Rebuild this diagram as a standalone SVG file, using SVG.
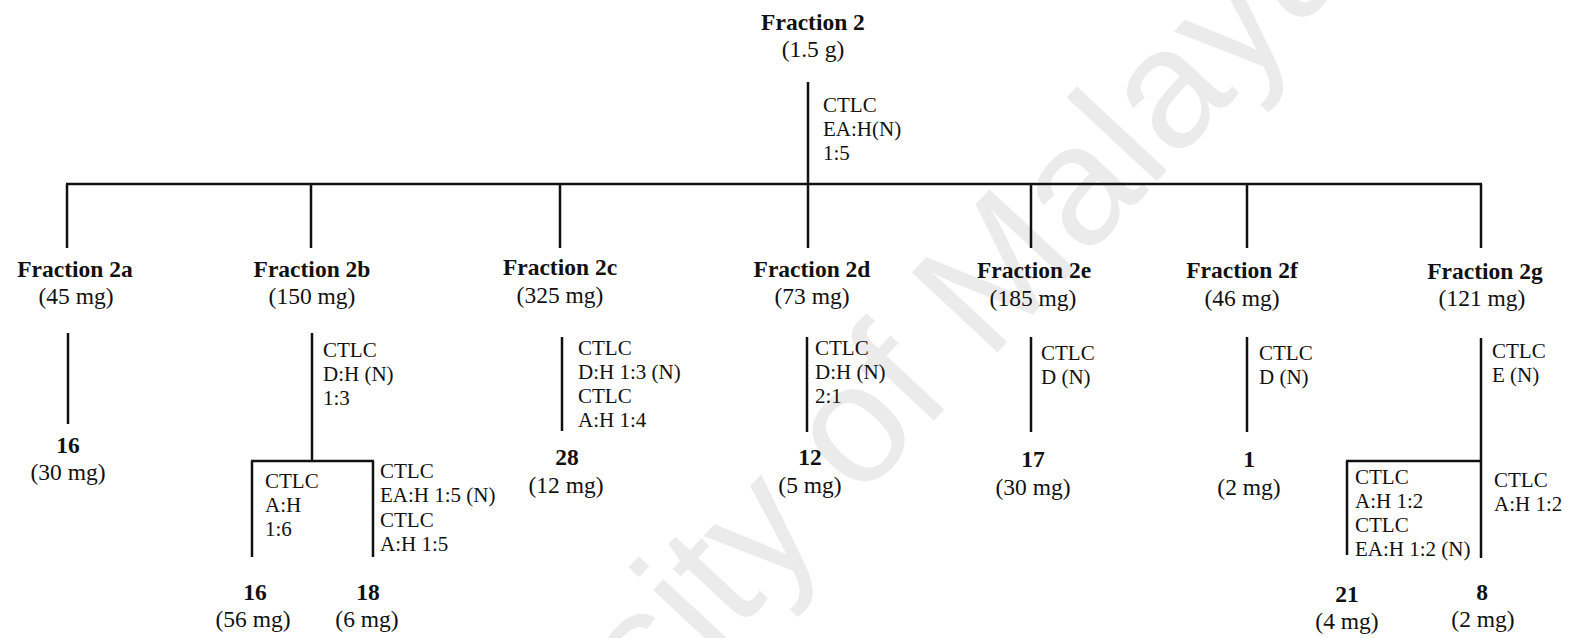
<svg xmlns="http://www.w3.org/2000/svg" width="1569" height="638" viewBox="0 0 1569 638">
  <style>
    .lbl { font-family: "Liberation Serif", "Times New Roman", serif; font-size: 23.5px; font-weight: bold; fill: #111; text-anchor: middle; }
    .mass { font-family: "Liberation Serif", "Times New Roman", serif; font-size: 23.5px; fill: #111; text-anchor: middle; }
    .note { font-family: "Liberation Serif", "Times New Roman", serif; font-size: 21px; fill: #111; }
    .wm { font-family: "Liberation Sans", Arial, sans-serif; font-size: 170px; fill: #ebebeb; }
    #connectors line { stroke: #111; stroke-width: 2.5; stroke-linecap: butt; }
  </style>
  <rect width="1569" height="638" fill="#ffffff"/>

  <!-- background watermark -->
  <text class="wm" transform="translate(318,1081) rotate(-47)">University of Malaya</text>

  <!-- connectors -->
  <g id="connectors">
    <line x1="808" y1="82" x2="808" y2="184"/>
    <line x1="66" y1="184" x2="1482" y2="184"/>
    <line x1="67" y1="184" x2="67" y2="248"/>
    <line x1="311" y1="184" x2="311" y2="248"/>
    <line x1="560" y1="184" x2="560" y2="248"/>
    <line x1="808" y1="184" x2="808" y2="248"/>
    <line x1="1031" y1="184" x2="1031" y2="248"/>
    <line x1="1247" y1="184" x2="1247" y2="248"/>
    <line x1="1481" y1="184" x2="1481" y2="248"/>
    <!-- 2a -->
    <line x1="68" y1="333" x2="68" y2="424"/>
    <!-- 2b -->
    <line x1="312" y1="333" x2="312" y2="461"/>
    <line x1="251" y1="461" x2="374" y2="461"/>
    <line x1="252" y1="461" x2="252" y2="557"/>
    <line x1="373" y1="461" x2="373" y2="557"/>
    <!-- 2c -->
    <line x1="562" y1="337" x2="562" y2="431"/>
    <!-- 2d -->
    <line x1="807" y1="337" x2="807" y2="432"/>
    <!-- 2e -->
    <line x1="1031" y1="337" x2="1031" y2="432"/>
    <!-- 2f -->
    <line x1="1247" y1="337" x2="1247" y2="432"/>
    <!-- 2g -->
    <line x1="1481" y1="338" x2="1481" y2="558"/>
    <line x1="1346" y1="461" x2="1482" y2="461"/>
    <line x1="1347" y1="461" x2="1347" y2="555"/>
  </g>

  <!-- root -->
  <g id="fraction2">
    <text class="lbl" x="813" y="30">Fraction 2</text>
    <text class="mass" x="813" y="57">(1.5 g)</text>
    <text class="note" x="823" y="112">CTLC</text>
    <text class="note" x="823" y="136">EA:H(N)</text>
    <text class="note" x="823" y="160">1:5</text>
  </g>

  <!-- fraction 2a -->
  <g id="fraction2a">
    <text class="lbl" x="75" y="277">Fraction 2a</text>
    <text class="mass" x="76" y="304">(45 mg)</text>
  </g>
  <g id="cpd16a">
    <text class="lbl" x="68" y="453">16</text>
    <text class="mass" x="68" y="480">(30 mg)</text>
  </g>

  <!-- fraction 2b -->
  <g id="fraction2b">
    <text class="lbl" x="312" y="277">Fraction 2b</text>
    <text class="mass" x="312" y="304">(150 mg)</text>
    <text class="note" x="323" y="357">CTLC</text>
    <text class="note" x="323" y="381">D:H (N)</text>
    <text class="note" x="323" y="405">1:3</text>
    <text class="note" x="265" y="488">CTLC</text>
    <text class="note" x="265" y="512">A:H</text>
    <text class="note" x="265" y="536">1:6</text>
    <text class="note" x="380" y="478">CTLC</text>
    <text class="note" x="380" y="502">EA:H 1:5 (N)</text>
    <text class="note" x="380" y="527">CTLC</text>
    <text class="note" x="380" y="551">A:H 1:5</text>
  </g>
  <g id="cpd16b">
    <text class="lbl" x="255" y="600">16</text>
    <text class="mass" x="253" y="627">(56 mg)</text>
  </g>
  <g id="cpd18">
    <text class="lbl" x="368" y="600">18</text>
    <text class="mass" x="367" y="627">(6 mg)</text>
  </g>

  <!-- fraction 2c -->
  <g id="fraction2c">
    <text class="lbl" x="560" y="275">Fraction 2c</text>
    <text class="mass" x="560" y="303">(325 mg)</text>
    <text class="note" x="578" y="355">CTLC</text>
    <text class="note" x="578" y="379">D:H 1:3 (N)</text>
    <text class="note" x="578" y="403">CTLC</text>
    <text class="note" x="578" y="427">A:H 1:4</text>
  </g>
  <g id="cpd28">
    <text class="lbl" x="567" y="465">28</text>
    <text class="mass" x="566" y="493">(12 mg)</text>
  </g>

  <!-- fraction 2d -->
  <g id="fraction2d">
    <text class="lbl" x="812" y="277">Fraction 2d</text>
    <text class="mass" x="812" y="304">(73 mg)</text>
    <text class="note" x="815" y="355">CTLC</text>
    <text class="note" x="815" y="379">D:H (N)</text>
    <text class="note" x="815" y="403">2:1</text>
  </g>
  <g id="cpd12">
    <text class="lbl" x="810" y="465">12</text>
    <text class="mass" x="810" y="493">(5 mg)</text>
  </g>

  <!-- fraction 2e -->
  <g id="fraction2e">
    <text class="lbl" x="1034" y="278">Fraction 2e</text>
    <text class="mass" x="1033" y="306">(185 mg)</text>
    <text class="note" x="1041" y="360">CTLC</text>
    <text class="note" x="1041" y="384">D (N)</text>
  </g>
  <g id="cpd17">
    <text class="lbl" x="1033" y="467">17</text>
    <text class="mass" x="1033" y="495">(30 mg)</text>
  </g>

  <!-- fraction 2f -->
  <g id="fraction2f">
    <text class="lbl" x="1242" y="278">Fraction 2f</text>
    <text class="mass" x="1242" y="306">(46 mg)</text>
    <text class="note" x="1259" y="360">CTLC</text>
    <text class="note" x="1259" y="384">D (N)</text>
  </g>
  <g id="cpd1">
    <text class="lbl" x="1249" y="467">1</text>
    <text class="mass" x="1249" y="495">(2 mg)</text>
  </g>

  <!-- fraction 2g -->
  <g id="fraction2g">
    <text class="lbl" x="1485" y="279">Fraction 2g</text>
    <text class="mass" x="1482" y="306">(121 mg)</text>
    <text class="note" x="1492" y="358">CTLC</text>
    <text class="note" x="1492" y="382">E (N)</text>
    <text class="note" x="1355" y="484">CTLC</text>
    <text class="note" x="1355" y="508">A:H 1:2</text>
    <text class="note" x="1355" y="532">CTLC</text>
    <text class="note" x="1355" y="556">EA:H 1:2 (N)</text>
    <text class="note" x="1494" y="487">CTLC</text>
    <text class="note" x="1494" y="511">A:H 1:2</text>
  </g>
  <g id="cpd21">
    <text class="lbl" x="1347" y="602">21</text>
    <text class="mass" x="1347" y="629">(4 mg)</text>
  </g>
  <g id="cpd8">
    <text class="lbl" x="1482" y="600">8</text>
    <text class="mass" x="1483" y="627">(2 mg)</text>
  </g>
</svg>
